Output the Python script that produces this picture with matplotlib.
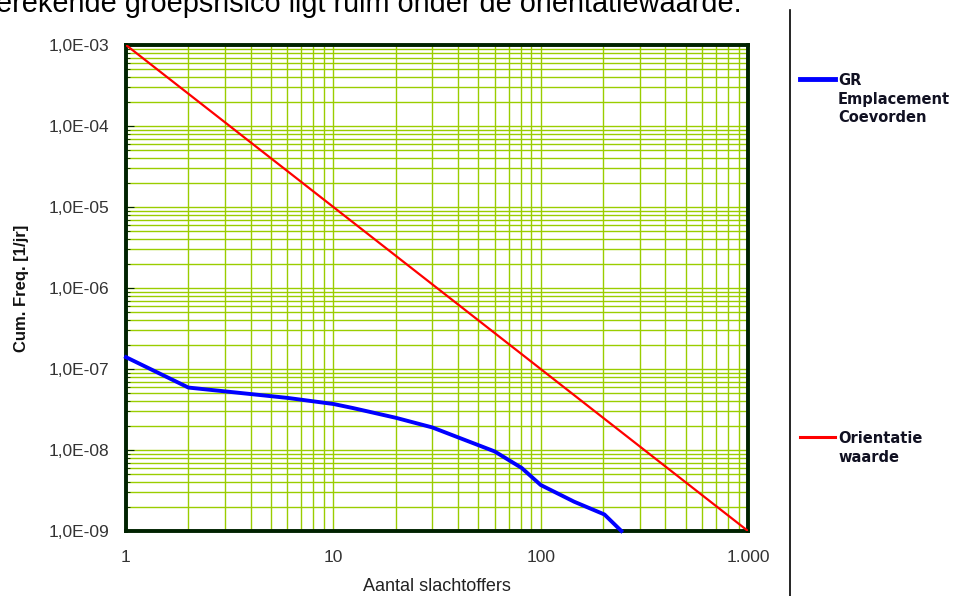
import numpy as np
import matplotlib
matplotlib.use("Agg")
import matplotlib.pyplot as plt
from matplotlib.lines import Line2D
from matplotlib.ticker import LogLocator, FixedLocator, FixedFormatter, NullFormatter

plt.rcParams["font.family"] = ["Liberation Sans", "DejaVu Sans"]

# GR Emplacement Coevorden
n_gr = [1, 2, 6, 10, 12.4, 20, 30, 60, 81, 100, 145, 203, 245]
f_gr = [1.4e-7, 5.9e-8, 4.4e-8, 3.7e-8, 3.3e-8, 2.5e-8, 1.9e-8,
        9.6e-9, 6.0e-9, 3.7e-9, 2.3e-9, 1.6e-9, 1.0e-9]

# Orientatiewaarde: 1e-3 / N^2
n_ow = [1, 1000]
f_ow = [1e-3, 1e-9]

x_ticks = [1, 10, 100, 1000]
x_labels = ["1", "10", "100", "1.000"]
y_ticks = [1e-9, 1e-8, 1e-7, 1e-6, 1e-5, 1e-4, 1e-3]
y_labels = ["1,0E-09", "1,0E-08", "1,0E-07", "1,0E-06", "1,0E-05", "1,0E-04", "1,0E-03"]

fig = plt.figure(figsize=(9.54, 5.96), dpi=100)
ax = fig.add_axes([126/954, 1 - 531/596, 622/954, 486/596])

ax.set_xscale("log")
ax.set_yscale("log")
ax.set_xlim(1, 1000)
ax.set_ylim(1e-9, 1e-3)

grid_col = "#9ACD00"
ax.xaxis.set_minor_locator(LogLocator(base=10, subs=np.arange(2, 10)))
ax.yaxis.set_minor_locator(LogLocator(base=10, subs=np.arange(2, 10)))
ax.grid(which="major", color=grid_col, linewidth=1.0)
ax.grid(which="minor", color=grid_col, linewidth=1.0)
ax.set_axisbelow(True)

ax.plot(n_ow, f_ow, color="#FF0000", linewidth=1.6, zorder=3)
ax.plot(n_gr, f_gr, color="#0000FF", linewidth=2.8, zorder=4, clip_on=False)

ax.xaxis.set_major_locator(FixedLocator(x_ticks))
ax.xaxis.set_major_formatter(FixedFormatter(x_labels))
ax.xaxis.set_minor_formatter(NullFormatter())
ax.yaxis.set_major_locator(FixedLocator(y_ticks))
ax.yaxis.set_major_formatter(FixedFormatter(y_labels))
ax.yaxis.set_minor_formatter(NullFormatter())

ax.tick_params(axis="both", which="both", colors="#333333", labelsize=12.5)
ax.tick_params(axis="x", which="both", length=0, pad=14)
ax.tick_params(axis="y", which="major", direction="in", length=6, pad=12, color="#002200")
ax.tick_params(axis="y", which="minor", direction="in", length=3, color="#002200")

for s in ax.spines.values():
    s.set_color("#002200")
    s.set_linewidth(2.8)

ax.set_xlabel("Aantal slachtoffers", fontsize=13, color="#222222", labelpad=9)
ax.set_ylabel("Cum. Freq. [1/jr]", fontsize=12, fontweight="bold", color="#111111", labelpad=14)

# legend, drawn by hand at the right
fig.add_artist(Line2D([800/954, 835/954], [1 - 79/596, 1 - 79/596], color="#0000FF", linewidth=3.5))
fig.text(838/954, 1 - 73/596, "GR\nEmplacement\nCoevorden", fontsize=10.5, fontweight="bold",
         family="DejaVu Sans", color="#111122", va="top", ha="left", linespacing=1.3)
fig.add_artist(Line2D([800/954, 835/954], [1 - 437/596, 1 - 437/596], color="#FF0000", linewidth=2.2))
fig.text(838/954, 1 - 431/596, "Orientatie\nwaarde", fontsize=10.5, fontweight="bold",
         family="DejaVu Sans", color="#111122", va="top", ha="left", linespacing=1.3)

# page decorations
fig.add_artist(Line2D([790/954, 790/954], [0, 1 - 10/596], color="black", linewidth=1.2))
fig.text(-0.004, 1 - 12/596, "erekende groepsrisico ligt ruim onder de orientatiewaarde.",
         fontsize=20.8, va="baseline", ha="left", color="black")

fig.savefig("out.png", dpi=100)
